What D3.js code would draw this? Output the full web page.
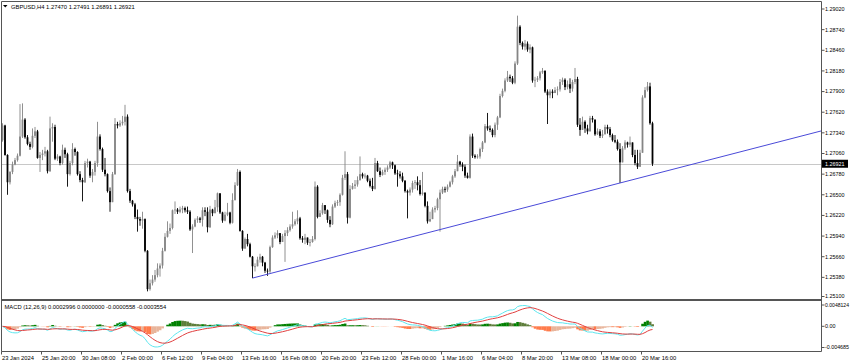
<!DOCTYPE html>
<html><head><meta charset="utf-8">
<script src="https://cdn.jsdelivr.net/npm/d3@7"></script>
<style>
body{margin:0;background:#fff}
svg{display:block}
text{font-family:"Liberation Sans",Arial,sans-serif;font-size:5.8px;fill:#000}
text.ax{font-size:5.4px}
</style>
</head><body>
<svg id="chart" width="850" height="364"></svg>
<script>
// ---------------- DATA ----------------
const symbolTitle = "GBPUSD,H4";
const lastOHLC = ["1.27470", "1.27491", "1.26891", "1.26921"];
const macdName = "MACD (12,26,9)";
const macdLegend = ["0.0002996", "0.0000000", "-0.0000558", "-0.0003554"];

const timeLabels = ["23 Jan 2024","25 Jan 20:00","30 Jan 08:00","2 Feb 00:00","6 Feb 12:00",
  "9 Feb 04:00","13 Feb 16:00","16 Feb 08:00","20 Feb 20:00","23 Feb 12:00","28 Feb 00:00",
  "1 Mar 16:00","6 Mar 04:00","8 Mar 20:00","13 Mar 08:00","18 Mar 00:00","20 Mar 16:00"];
const timeLabelBars = [0,16,32,48,64,80,96,112,128,144,160,176,192,208,224,240,256];

const priceTicks = [1.29020,1.28740,1.28460,1.28180,1.27900,1.27620,1.27340,1.27060,
  1.26780,1.26500,1.26220,1.25940,1.25660,1.25380,1.25100];
const macdTicks = [0.0048124, 0.0, -0.004685];
const macdTickLabels = ["0.0048124", "0.00", "-0.004685"];

const currentPrice = 1.26921;
const firstOpen = 1.2724;

const closes = [
1.2744,1.2704,1.2667,1.2681,1.2691,1.2697,1.2703,1.2729,1.2752,1.2728,
1.2719,1.2715,1.2730,1.2736,1.2700,1.2704,1.2706,1.2709,1.2682,1.2740,
1.2742,1.2699,1.2702,1.2693,1.2711,1.2705,1.2678,1.2693,1.2712,1.2708,
1.2678,1.2670,1.2667,1.2693,1.2695,1.2676,1.2681,1.2693,1.2729,1.2712,
1.2684,1.2678,1.2655,1.2640,1.2678,1.2746,1.2744,1.2747,1.2749,1.2756,
1.2655,1.2642,1.2637,1.2620,1.2617,1.2615,1.2617,1.2574,1.2522,1.2530,
1.2535,1.2541,1.2550,1.2554,1.2574,1.2593,1.2601,1.2605,
1.2629,1.2630,1.2627,1.2630,1.2632,1.2629,1.2627,1.2603,1.2607,1.2616,
1.2618,1.2616,1.2629,1.2627,1.2606,1.2630,1.2625,1.2633,1.2652,1.2626,
1.2615,1.2623,1.2626,1.2612,1.2643,1.2663,1.2681,1.2601,1.2577,1.2590,
1.2583,1.2566,1.2553,1.2553,1.2562,1.2566,1.2558,1.2547,1.2546,1.2579,
1.2592,1.2595,1.2598,1.2586,1.2594,1.2598,1.2602,1.2607,1.2610,1.2614,
1.2618,1.2591,1.2589,1.2592,1.2585,1.2586,1.2590,1.2661,1.2620,1.2625,
1.2636,1.2629,1.2616,1.2610,
1.2634,1.2639,1.2640,1.2650,1.2673,1.2678,1.2619,1.2658,1.2662,1.2664,
1.2670,1.2678,1.2675,1.2676,1.2669,1.2662,1.2658,1.2693,1.2682,1.2677,
1.2681,1.2684,1.2687,1.2694,1.2690,1.2679,1.2678,1.2675,1.2669,1.2655,
1.2653,1.2657,1.2666,1.2667,1.2663,1.2651,1.2653,1.2635,1.2614,1.2617,
1.2630,1.2632,1.2644,1.2653,1.2658,1.2657,1.2661,1.2667,1.2675,1.2682,
1.2695,1.2691,1.2688,1.2676,1.2673,1.2729,1.2703,1.2701,1.2702,1.2712,
1.2721,1.2743,1.2740,1.2738,1.2731,1.2745,
1.2755,1.2784,1.2791,1.2805,1.2810,1.2808,1.2802,1.2828,1.2878,1.2856,
1.2851,1.2855,1.2847,1.2850,1.2805,1.2806,1.2808,1.2816,1.2818,1.2790,
1.2785,1.2790,1.2788,1.2792,1.2793,1.2803,1.2806,1.2796,1.2800,1.2794,
1.2803,1.2807,1.2745,1.2738,1.2749,1.2740,1.2736,1.2754,1.2752,1.2732,
1.2736,1.2730,1.2732,1.2742,1.2739,1.2731,1.2724,1.2722,1.2712,1.2694,
1.2713,1.2721,1.2718,1.2721,1.2704,1.2693,1.2688,1.2707,1.2782,1.2792,
1.2797,1.2747,1.26921];

const highs = [
1.2747,1.2745,1.2705,1.2682,1.2695,1.2700,1.2706,1.2773,1.2774,1.2754,
1.2731,1.2722,1.2740,1.2742,1.2738,1.2708,1.2711,1.2715,1.2711,1.2756,
1.2747,1.2745,1.2705,1.2703,1.2718,1.2714,1.2707,1.2696,1.2720,1.2714,
1.2709,1.2682,1.2673,1.2696,1.2699,1.2696,1.2685,1.2696,1.2749,1.2732,
1.2714,1.2700,1.2679,1.2660,1.2681,1.2754,1.2749,1.2751,1.2757,1.2772,
1.2759,1.2658,1.2643,1.2639,1.2630,1.2620,1.2627,1.2618,1.2575,1.2535,
1.2541,1.2548,1.2557,1.2557,1.2578,1.2598,1.2614,1.2611,
1.2630,1.2641,1.2632,1.2634,1.2635,1.2634,1.2634,1.2629,1.2610,1.2618,
1.2621,1.2620,1.2633,1.2633,1.2633,1.2635,1.2631,1.2643,1.2653,1.2648,
1.2627,1.2627,1.2639,1.2627,1.2652,1.2667,1.2685,1.2683,1.2602,1.2592,
1.2597,1.2585,1.2567,1.2557,1.2566,1.2570,1.2567,1.2559,1.2550,1.2581,
1.2595,1.2599,1.2602,1.2598,1.2597,1.2602,1.2606,1.2610,1.2627,1.2617,
1.2629,1.2620,1.2594,1.2597,1.2592,1.2590,1.2594,1.2668,1.2663,1.2629,
1.2639,1.2636,1.2630,1.2621,
1.2637,1.2642,1.2643,1.2652,1.2677,1.2709,1.2681,1.2663,1.2666,1.2670,
1.2675,1.2702,1.2680,1.2679,1.2677,1.2672,1.2673,1.2700,1.2696,1.2687,
1.2684,1.2687,1.2690,1.2696,1.2695,1.2691,1.2684,1.2682,1.2680,1.2670,
1.2657,1.2660,1.2669,1.2670,1.2675,1.2670,1.2681,1.2653,1.2641,1.2627,
1.2633,1.2635,1.2646,1.2657,1.2661,1.2661,1.2664,1.2669,1.2677,1.2685,
1.2704,1.2696,1.2694,1.2691,1.2680,1.2732,1.2733,1.2705,1.2705,1.2714,
1.2723,1.2746,1.2761,1.2744,1.2740,1.2748,
1.2757,1.2787,1.2794,1.2808,1.2818,1.2813,1.2811,1.2831,1.2893,1.2880,
1.2858,1.2860,1.2858,1.2854,1.2851,1.2810,1.2811,1.2818,1.2822,1.2819,
1.2793,1.2793,1.2793,1.2796,1.2797,1.2807,1.2809,1.2808,1.2805,1.2808,
1.2806,1.2822,1.2810,1.2754,1.2756,1.2751,1.2745,1.2757,1.2757,1.2752,
1.2740,1.2739,1.2738,1.2745,1.2745,1.2742,1.2733,1.2731,1.2725,1.2720,
1.2716,1.2724,1.2722,1.2729,1.2721,1.2711,1.2711,1.2711,1.2785,1.2796,
1.2803,1.2802,1.27491];

const lows = [
1.2722,1.2703,1.2650,1.2664,1.2678,1.2690,1.2695,1.2702,1.2727,1.2726,
1.2717,1.2711,1.2713,1.2727,1.2699,1.2681,1.2697,1.2702,1.2679,1.2681,
1.2722,1.2697,1.2696,1.2690,1.2691,1.2700,1.2661,1.2676,1.2690,1.2703,
1.2676,1.2667,1.2641,1.2666,1.2687,1.2673,1.2667,1.2676,1.2688,1.2710,
1.2681,1.2675,1.2653,1.2627,1.2640,1.2677,1.2740,1.2742,1.2744,1.2744,
1.2653,1.2639,1.2634,1.2617,1.2600,1.2608,1.2604,1.2572,1.2519,1.2520,
1.2527,1.2532,1.2538,1.2539,1.2550,1.2573,1.2592,1.2597,
1.2603,1.2624,1.2624,1.2625,1.2625,1.2626,1.2624,1.2601,1.2571,1.2606,
1.2612,1.2612,1.2607,1.2621,1.2599,1.2605,1.2621,1.2626,1.2627,1.2624,
1.2612,1.2614,1.2621,1.2610,1.2611,1.2642,1.2662,1.2600,1.2574,1.2579,
1.2580,1.2565,1.2537,1.2546,1.2553,1.2558,1.2553,1.2544,1.2540,1.2544,
1.2578,1.2590,1.2591,1.2583,1.2588,1.2559,1.2594,1.2600,1.2604,1.2608,
1.2610,1.2589,1.2585,1.2583,1.2582,1.2580,1.2585,1.2588,1.2618,1.2620,
1.2623,1.2624,1.2612,1.2606,
1.2609,1.2632,1.2635,1.2635,1.2649,1.2670,1.2611,1.2618,1.2657,1.2658,
1.2661,1.2669,1.2672,1.2672,1.2667,1.2660,1.2655,1.2657,1.2681,1.2674,
1.2676,1.2677,1.2681,1.2685,1.2685,1.2677,1.2661,1.2672,1.2667,1.2653,
1.2618,1.2649,1.2653,1.2658,1.2656,1.2649,1.2649,1.2633,1.2611,1.2613,
1.2624,1.2626,1.2629,1.2600,1.2651,1.2653,1.2654,1.2660,1.2664,1.2673,
1.2682,1.2688,1.2682,1.2673,1.2672,1.2672,1.2700,1.2699,1.2699,1.2699,
1.2708,1.2720,1.2737,1.2735,1.2728,1.2728,
1.2738,1.2754,1.2782,1.2789,1.2803,1.2803,1.2800,1.2800,1.2826,1.2853,
1.2847,1.2846,1.2844,1.2842,1.2802,1.2796,1.2803,1.2805,1.2814,1.2788,
1.2746,1.2781,1.2781,1.2788,1.2785,1.2790,1.2799,1.2792,1.2793,1.2788,
1.2790,1.2800,1.2742,1.2730,1.2743,1.2734,1.2732,1.2737,1.2748,1.2730,
1.2731,1.2727,1.2727,1.2734,1.2733,1.2728,1.2722,1.2720,1.2710,1.2666,
1.2695,1.2711,1.2714,1.2715,1.2701,1.2690,1.2685,1.2690,1.2708,1.2781,
1.2790,1.2745,1.26891];

// trend line anchors: [bar index, price]
const trendAnchorBars = [100, 247];
const trendAnchorPrices = [1.2537, 1.2666];

// ---------------- BUILD ----------------
const bars = closes.map((c, i) => {
  const o = i === 0 ? firstOpen : closes[i - 1];
  return { i, o, c, h: Math.max(highs[i], o, c), l: Math.min(lows[i], o, c) };
});

// MACD (12,26,9) computed from the closes
function ema(arr, n) {
  const k = 2 / (n + 1); const out = []; let prev = arr[0];
  arr.forEach((v, i) => { prev = i === 0 ? v : v * k + prev * (1 - k); out.push(prev); });
  return out;
}
const e12 = ema(closes, 12), e26 = ema(closes, 26);
const macdLine = closes.map((_, i) => e12[i] - e26[i]);
const signalLine = ema(macdLine, 9);
const hist = macdLine.map((m, i) => m - signalLine[i]);

const svg = d3.select("#chart");
const W = 850, H = 364;
const L = 1.5, R = 821.5, T = 1.5, MB = 299.5, ST = 301.5, SB = 351.5;

const x = d3.scaleLinear().domain([0, 327]).range([2.5, 820]);
const y = d3.scaleLinear().domain([1.25100, 1.29020]).range([298, 9]);
const ym = d3.scaleLinear().domain([-0.004685, 0.0048124]).range([349, 303]);

svg.append("rect").attr("width", W).attr("height", H).attr("fill", "#fff");

const defs = svg.append("defs");
defs.append("clipPath").attr("id", "mainClip").append("rect")
  .attr("x", L).attr("y", T).attr("width", R - L).attr("height", MB - T);
defs.append("clipPath").attr("id", "subClip").append("rect")
  .attr("x", L).attr("y", ST).attr("width", R - L).attr("height", SB - ST);

const main = svg.append("g").attr("clip-path", "url(#mainClip)");

// current price line
main.append("line").attr("x1", L).attr("x2", R)
  .attr("y1", Math.round(y(currentPrice)) + 0.5).attr("y2", Math.round(y(currentPrice)) + 0.5)
  .attr("stroke", "#c8c8c8").attr("stroke-width", 1);

// candles
const upCol = "#858585", dnCol = "#000";
const cg = main.append("g");
cg.selectAll("line.wick").data(bars).join("line").attr("class", "wick")
  .attr("x1", d => x(d.i)).attr("x2", d => x(d.i))
  .attr("y1", d => y(d.h)).attr("y2", d => y(d.l))
  .attr("stroke", d => d.c >= d.o ? upCol : dnCol).attr("stroke-width", 0.9);
cg.selectAll("rect.body").data(bars).join("rect").attr("class", "body")
  .attr("x", d => x(d.i) - 0.9).attr("width", 1.8)
  .attr("y", d => Math.min(y(d.o), y(d.c)))
  .attr("height", d => Math.max(0.8, Math.abs(y(d.o) - y(d.c))))
  .attr("fill", d => d.c >= d.o ? upCol : dnCol);

// trend line
const slope = (trendAnchorPrices[1] - trendAnchorPrices[0]) / (trendAnchorBars[1] - trendAnchorBars[0]);
const endBar = x.invert(R);
main.append("line")
  .attr("x1", x(trendAnchorBars[0])).attr("y1", y(trendAnchorPrices[0]))
  .attr("x2", x(endBar)).attr("y2", y(trendAnchorPrices[0] + slope * (endBar - trendAnchorBars[0])))
  .attr("stroke", "#4a4ad8").attr("stroke-width", 1);

// MACD panel
const sub = svg.append("g").attr("clip-path", "url(#subClip)");
const hw = x(1) - x(0);
sub.selectAll("rect.h").data(hist).join("rect").attr("class", "h")
  .attr("x", (d, i) => x(i) - hw / 2).attr("width", hw + 0.2)
  .attr("y", d => Math.min(ym(d), ym(0)))
  .attr("height", d => Math.abs(ym(d) - ym(0)))
  .attr("fill", (d, i) => {
    const p = i > 0 ? hist[i - 1] : d;
    if (d >= 0) return d >= p ? "#008000" : "#5d7d3a";
    return d <= p ? "#ff7a4a" : "#e8b49a";
  });
const lineGen = d3.line().x((d, i) => x(i)).y(d => ym(d));
sub.append("path").datum(macdLine).attr("d", lineGen).attr("fill", "none")
  .attr("stroke", "#5fe6ee").attr("stroke-width", 1);
sub.append("path").datum(signalLine).attr("d", lineGen).attr("fill", "none")
  .attr("stroke", "#e04040").attr("stroke-width", 1);

// frames
const fr = svg.append("g").attr("stroke", "#555").attr("fill", "none").attr("stroke-width", 1);
fr.append("line").attr("x1", L).attr("x2", R).attr("y1", T).attr("y2", T);
fr.append("line").attr("x1", L).attr("x2", L).attr("y1", T).attr("y2", SB);
fr.append("line").attr("x1", R).attr("x2", R).attr("y1", T).attr("y2", SB);
fr.append("line").attr("x1", L).attr("x2", R).attr("y1", MB).attr("y2", MB);
fr.append("line").attr("x1", L).attr("x2", R).attr("y1", ST - 1).attr("y2", ST - 1);
fr.append("line").attr("x1", L).attr("x2", R).attr("y1", SB).attr("y2", SB);

// price axis
const pa = svg.append("g");
priceTicks.forEach(t => {
  const yy = Math.min(y(t), 296.5);
  pa.append("line").attr("x1", R).attr("x2", R + 3).attr("y1", yy).attr("y2", yy).attr("stroke", "#555");
  pa.append("text").attr("class", "ax").attr("x", R + 3.5).attr("y", yy).attr("dy", "0.35em").text(t.toFixed(5));
});
// current price box
const cy = y(currentPrice);
pa.append("rect").attr("x", R + 0.5).attr("y", cy - 4).attr("width", 26).attr("height", 8).attr("fill", "#000");
pa.append("text").attr("class", "ax").attr("x", R + 3.5).attr("y", cy).attr("dy", "0.35em").style("fill", "#fff")
  .text(currentPrice.toFixed(5));

// MACD axis
macdTicks.forEach((t, k) => {
  const yy = ym(t) + (k === 0 ? 2 : (k === 2 ? -1.5 : 0));
  pa.append("line").attr("x1", R).attr("x2", R + 3).attr("y1", yy).attr("y2", yy).attr("stroke", "#555");
  pa.append("text").attr("class", "ax").attr("x", R + 3.5).attr("y", yy).attr("dy", "0.35em")
    .attr("textLength", k === 1 ? null : 24).attr("lengthAdjust", "spacingAndGlyphs")
    .text(macdTickLabels[k]);
});

// time axis
const ta = svg.append("g");
timeLabels.forEach((lab, k) => {
  const xx = x(timeLabelBars[k]) - 1;
  ta.append("line").attr("x1", xx).attr("x2", xx).attr("y1", SB).attr("y2", SB + 3).attr("stroke", "#555");
  ta.append("text").attr("x", xx + 0.5).attr("y", 359.5).text(lab);
});

// titles
svg.append("path").attr("d", "M3,5 L7.5,5 L5.25,7.5 Z").attr("fill", "#000");
svg.append("text").attr("x", 11).attr("y", 8.5)
  .text(symbolTitle + "  " + lastOHLC.join(" "));
svg.append("text").attr("x", 4.5).attr("y", 308.5)
  .text(macdName + " " + macdLegend.join(" "));
</script>
</body></html>
